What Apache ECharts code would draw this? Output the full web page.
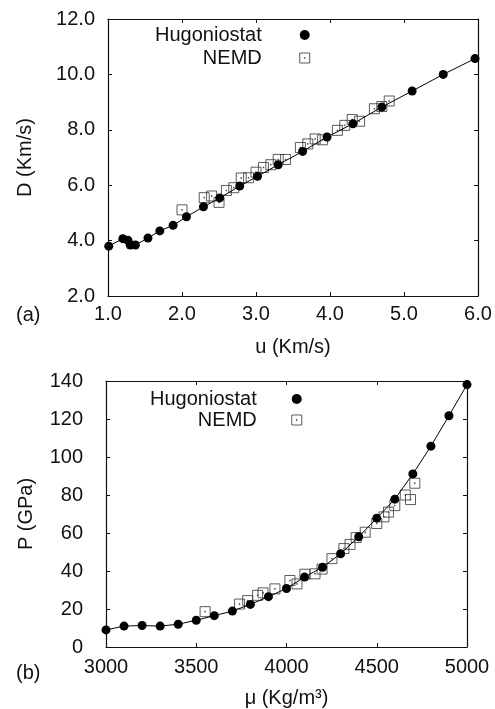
<!DOCTYPE html>
<html>
<head>
<meta charset="utf-8">
<title>Hugoniot</title>
<script src="https://cdn.jsdelivr.net/npm/echarts@6/dist/echarts.min.js"></script>
<style>
  html, body { margin: 0; padding: 0; background: #fff; }
  #main { width: 495px; height: 709px; }
</style>
</head>
<body>
<div id="main"></div>
<script>
  // (a) shock velocity D vs particle velocity u
  var hugoU = [1.01, 1.20, 1.27, 1.30, 1.37, 1.54, 1.70, 1.88, 2.06, 2.29, 2.51, 2.78, 3.02, 3.30, 3.63, 3.96, 4.31, 4.70, 5.11, 5.53, 5.96];
  var hugoD = [3.80, 4.07, 4.01, 3.84, 3.84, 4.09, 4.35, 4.55, 4.86, 5.22, 5.54, 5.97, 6.32, 6.74, 7.22, 7.74, 8.22, 8.82, 9.40, 10.00, 10.57];
  var nemdU = [2.0, 2.3, 2.4, 2.5, 2.6, 2.7, 2.8, 2.9, 3.0, 3.1, 3.2, 3.3, 3.4, 3.6, 3.7, 3.8, 3.9, 4.1, 4.2, 4.3, 4.4, 4.6, 4.7, 4.8];
  var nemdD = [5.11, 5.55, 5.61, 5.38, 5.81, 5.91, 6.26, 6.27, 6.47, 6.64, 6.74, 6.93, 6.93, 7.36, 7.49, 7.67, 7.64, 7.98, 8.16, 8.37, 8.31, 8.76, 8.84, 9.04];

  // (b) pressure P vs density rho
  var hugoRho = [3000, 3100, 3200, 3300, 3400, 3500, 3600, 3700, 3800, 3900, 4000, 4100, 4200, 4300, 4400, 4500, 4600, 4700, 4800, 4900, 5000];
  var hugoP = [9.0, 11.0, 11.3, 11.0, 12.0, 14.1, 16.5, 18.9, 22.4, 26.5, 30.8, 36.8, 42.0, 49.1, 58.0, 67.8, 77.8, 91.1, 105.7, 121.7, 138.1];
  var nemdRho = [3549, 3740, 3785, 3840, 3870, 3936, 4019, 4058, 4102, 4158, 4197, 4252, 4318, 4352, 4386, 4436, 4500, 4540, 4565, 4600, 4658, 4687, 4711];
  var nemdP = [18.6, 22.6, 24.4, 27.2, 28.5, 30.6, 35.0, 33.2, 38.3, 38.5, 41.0, 46.5, 51.8, 54.0, 57.6, 60.4, 65.0, 68.5, 71.0, 74.4, 80.0, 77.6, 86.2];

  function pairs(xs, ys) {
    return xs.map(function (x, i) { return [x, ys[i]]; });
  }

  var FONT = 'Liberation Sans, Arial, Helvetica, sans-serif';
  var FS = 20;
  var INK = '#111';
  var boxSym = 'path://M0,0H10V10H0Z M4.6,4.6H5.4V5.4H4.6Z';

  function axisBase(extra) {
    var o = {
      type: 'value',
      axisLine: { show: true, onZero: false, lineStyle: { color: INK, width: 1.2 } },
      axisTick: { show: true, inside: true, length: 4, lineStyle: { color: INK, width: 1 } },
      splitLine: { show: false },
      axisLabel: { color: INK, fontSize: FS, fontFamily: FONT }
    };
    for (var k in extra) o[k] = extra[k];
    return o;
  }
  var nameStyle = { color: INK, fontSize: FS, fontFamily: FONT };

  var myChart = echarts.init(document.getElementById('main'));

  var option = {
    backgroundColor: '#fff',
    animation: false,
    textStyle: { fontFamily: FONT },
    grid: [
      { left: 108, right: 17, top: 19, height: 277 },
      { left: 106, right: 28, top: 381, height: 271 }
    ],
    xAxis: [
      axisBase({
        gridIndex: 0, min: 1, max: 6, interval: 1, position: 'bottom',
        name: 'u (Km/s)', nameLocation: 'middle', nameGap: 41, nameTextStyle: nameStyle,
        axisLabel: { color: INK, fontSize: FS, fontFamily: FONT, margin: 8,
          formatter: function (v) { return v.toFixed(1); } }
      }),
      axisBase({ gridIndex: 0, min: 1, max: 6, interval: 1, position: 'top', axisLabel: { show: false } }),
      axisBase({
        gridIndex: 1, min: 3000, max: 5000, interval: 500, position: 'bottom',
        name: 'μ (Kg/m³)', nameLocation: 'middle', nameGap: 41, nameTextStyle: nameStyle,
        axisLabel: { color: INK, fontSize: FS, fontFamily: FONT, margin: 10,
          formatter: function (v) { return String(v); } }
      }),
      axisBase({ gridIndex: 1, min: 3000, max: 5000, interval: 500, position: 'top', axisLabel: { show: false } })
    ],
    yAxis: [
      axisBase({
        gridIndex: 0, min: 2, max: 12, interval: 2, position: 'left',
        name: 'D (Km/s)', nameLocation: 'middle', nameGap: 73, nameRotate: 90, nameTextStyle: nameStyle,
        axisLabel: { color: INK, fontSize: FS, fontFamily: FONT, margin: 13,
          formatter: function (v) { return v.toFixed(1); } }
      }),
      axisBase({ gridIndex: 0, min: 2, max: 12, interval: 2, position: 'right', axisLabel: { show: false } }),
      axisBase({
        gridIndex: 1, min: 0, max: 140, interval: 20, position: 'left',
        name: 'P (GPa)', nameLocation: 'middle', nameGap: 70, nameRotate: 90, nameTextStyle: nameStyle,
        axisLabel: { color: INK, fontSize: FS, fontFamily: FONT, margin: 23 }
      }),
      axisBase({ gridIndex: 1, min: 0, max: 140, interval: 20, position: 'right', axisLabel: { show: false } })
    ],
    legend: [
      {
        orient: 'vertical', align: 'right', left: 150, top: 20, itemGap: 3,
        itemWidth: 10, itemHeight: 10,
        textStyle: { fontSize: FS, color: INK, fontFamily: FONT, width: 112, align: 'right', padding: [0, 33, 0, 0] },
        data: [
          { name: 'Hugoniostat', icon: 'circle', itemStyle: { color: '#000' } },
          { name: 'NEMD', icon: boxSym, itemStyle: { color: 'none', borderColor: '#333', borderWidth: 1 } }
        ]
      },
      {
        orient: 'vertical', align: 'right', left: 145, top: 384, itemGap: 1,
        itemWidth: 10, itemHeight: 10,
        textStyle: { fontSize: FS, color: INK, fontFamily: FONT, width: 112, align: 'right', padding: [0, 30, 0, 0] },
        data: [
          { name: 'Hugoniostat', icon: 'circle', itemStyle: { color: '#000' } },
          { name: 'NEMD', icon: boxSym, itemStyle: { color: 'none', borderColor: '#333', borderWidth: 1 } }
        ]
      }
    ],
    graphic: [
      { type: 'text', left: 16, top: 305, style: { text: '(a)', fontSize: FS, fontFamily: FONT, fill: INK } },
      { type: 'text', left: 16, top: 663, style: { text: '(b)', fontSize: FS, fontFamily: FONT, fill: INK } }
    ],
    series: [
      {
        name: 'NEMD', type: 'scatter', xAxisIndex: 0, yAxisIndex: 0,
        symbol: boxSym, symbolSize: 10,
        itemStyle: { color: 'none', borderColor: '#333', borderWidth: 1 },
        data: pairs(nemdU, nemdD), z: 2
      },
      {
        name: 'Hugoniostat', type: 'line', xAxisIndex: 0, yAxisIndex: 0,
        symbol: 'circle', symbolSize: 9, showAllSymbol: true,
        lineStyle: { color: '#000', width: 1 },
        itemStyle: { color: '#000' },
        data: pairs(hugoU, hugoD), z: 3
      },
      {
        name: 'NEMD', type: 'scatter', xAxisIndex: 2, yAxisIndex: 2,
        symbol: boxSym, symbolSize: 10,
        itemStyle: { color: 'none', borderColor: '#333', borderWidth: 1 },
        data: pairs(nemdRho, nemdP), z: 2
      },
      {
        name: 'Hugoniostat', type: 'line', xAxisIndex: 2, yAxisIndex: 2,
        symbol: 'circle', symbolSize: 9, showAllSymbol: true,
        lineStyle: { color: '#000', width: 1 },
        itemStyle: { color: '#000' },
        data: pairs(hugoRho, hugoP), z: 3
      }
    ]
  };

  myChart.setOption(option);
</script>
</body>
</html>
